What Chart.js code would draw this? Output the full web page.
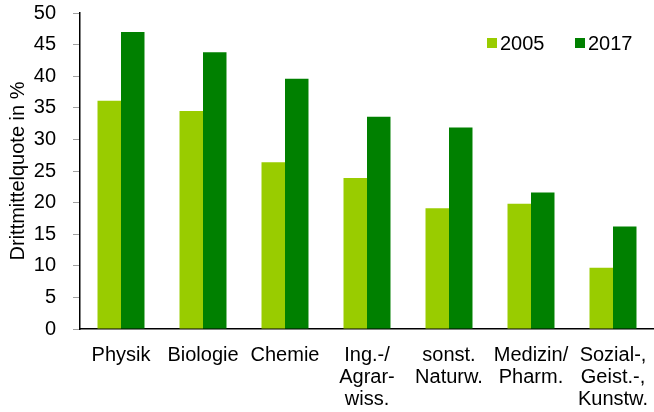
<!DOCTYPE html>
<html>
<head>
<meta charset="utf-8">
<script src="https://cdn.jsdelivr.net/npm/chart.js@4"></script>
<style>
  html, body { margin: 0; padding: 0; background: #fff; }
  #wrap { width: 654px; height: 412px; }
</style>
</head>
<body>
<div id="wrap"><canvas id="bar"></canvas></div>
<script>
const categories = [
    'Physik', 'Biologie', 'Chemie',
    ['Ing.-/', 'Agrar-', 'wiss.'],
    ['sonst.', 'Naturw.'],
    ['Medizin/', 'Pharm.'],
    ['Sozial-,', 'Geist.-,', 'Kunstw.']
];
const values2005 = [36.1, 34.5, 26.4, 23.9, 19.1, 19.8, 9.7];
const values2017 = [47.0, 43.8, 39.6, 33.6, 31.9, 21.6, 16.2];
const seriesNames = ['2005', '2017'];
const seriesColors = ['#99cc00', '#008000'];

Chart.defaults.font.family = 'Arial, "Liberation Sans", sans-serif';
Chart.defaults.font.size = 20;
Chart.defaults.color = '#000';

// legend sits inside the plot, top right
const innerLegend = {
    id: 'innerLegend',
    afterDraw(chart) {
        const ctx = chart.ctx;
        const xs = [487, 575];
        ctx.save();
        ctx.font = '20px Arial, "Liberation Sans", sans-serif';
        ctx.textBaseline = 'middle';
        chart.data.datasets.forEach(function(ds, i) {
            ctx.fillStyle = ds.backgroundColor;
            ctx.fillRect(xs[i], 38, 10, 10);
            ctx.fillStyle = '#000';
            ctx.fillText(ds.label, xs[i] + 13, 44);
        });
        ctx.restore();
    }
};

new Chart(document.getElementById('bar'), {
    type: 'bar',
    data: {
        labels: categories,
        datasets: [{
            label: seriesNames[0],
            data: values2005,
            backgroundColor: seriesColors[0]
        }, {
            label: seriesNames[1],
            data: values2017,
            backgroundColor: seriesColors[1]
        }]
    },
    options: {
        responsive: true,
        maintainAspectRatio: false,
        animation: false,
        categoryPercentage: 0.573,
        barPercentage: 1.0,
        layout: { padding: { top: 13, right: 0, left: 0, bottom: 0 } },
        plugins: {
            tooltip: { enabled: false },
            legend: { display: false }
        },
        scales: {
            x: {
                grid: { display: false },
                border: { display: true, color: '#000', width: 1.5 },
                ticks: { maxRotation: 0, autoSkip: false, padding: 7, font: { lineHeight: 1.1 } },
                afterFit: function(scale) {
                    scale.height = 83;
                    scale.paddingLeft = 0;
                    scale.paddingRight = 0;
                }
            },
            y: {
                min: 0,
                max: 50,
                ticks: { stepSize: 5, padding: 17 },
                grid: { drawOnChartArea: false, drawTicks: true, tickLength: 7, color: '#a0a0a0' },
                border: { display: true, color: '#000', width: 1.5 },
                title: { display: true, text: 'Drittmittelquote in %', padding: { top: 6, bottom: 0 } },
                afterFit: function(scale) {
                    scale.width = 80;
                    scale.paddingTop = 0;
                    scale.paddingBottom = 0;
                }
            }
        }
    },
    plugins: [innerLegend]
});
</script>
</body>
</html>
